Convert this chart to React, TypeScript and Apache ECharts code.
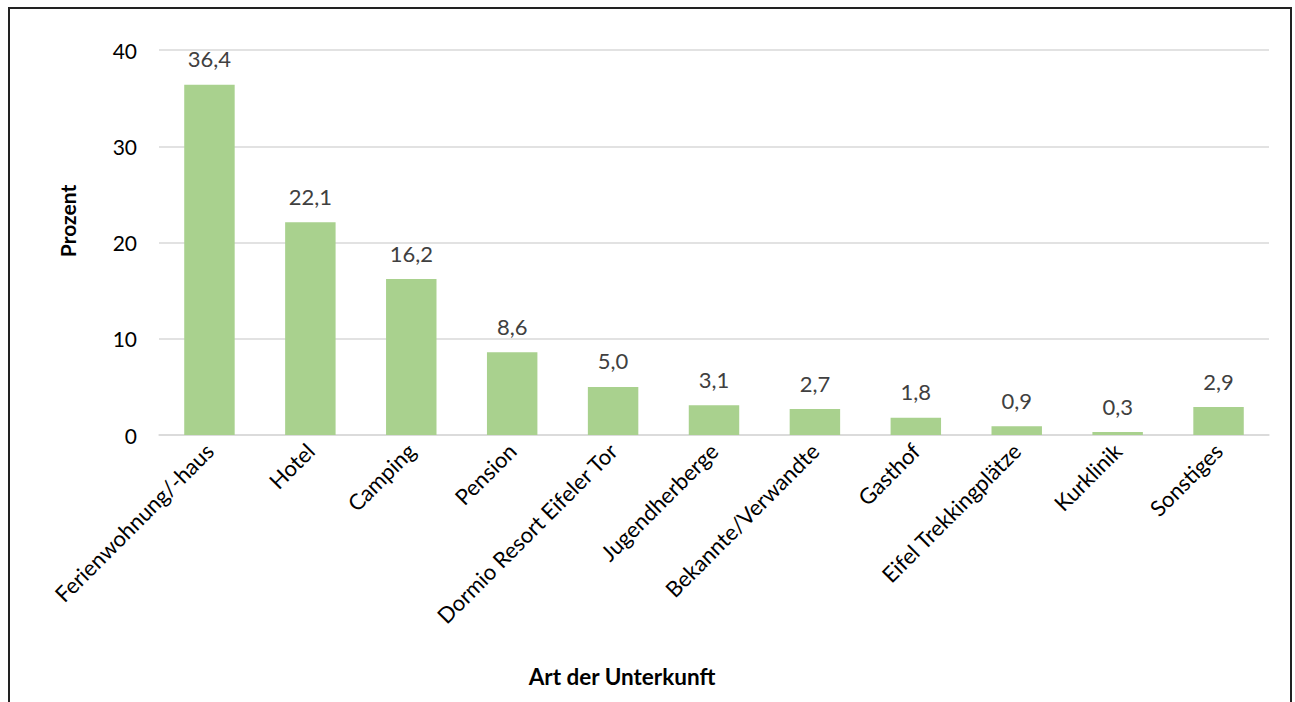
import React, { useEffect, useRef } from "react";
import * as echarts from "echarts";

const categories = [
  "Ferienwohnung/-haus",
  "Hotel",
  "Camping",
  "Pension",
  "Dormio Resort Eifeler Tor",
  "Jugendherberge",
  "Bekannte/Verwandte",
  "Gasthof",
  "Eifel Trekkingplätze",
  "Kurklinik",
  "Sonstiges",
];
const values = [36.4, 22.1, 16.2, 8.6, 5.0, 3.1, 2.7, 1.8, 0.9, 0.3, 2.9];
const yTicks = [0, 10, 20, 30, 40];
const xTitle = "Art der Unterkunft";
const yTitle = "Prozent";

const FONT = "Lato, 'Open Sans', sans-serif";
const FS = 22;

export default function App() {
  const ref = useRef<HTMLDivElement>(null);
  useEffect(() => {
    if (!ref.current) return;
    const chart = echarts.init(ref.current, undefined, { renderer: "svg" });
    chart.setOption({
      animation: false,
      backgroundColor: "#ffffff",
      textStyle: { fontFamily: FONT },
      grid: { left: 159, right: 26, top: 50, bottom: 267, containLabel: false },
      xAxis: {
        type: "category",
        data: categories,
        axisLine: { lineStyle: { color: "#D9D9D9", width: 1.5 } },
        axisTick: { show: false },
        axisLabel: {
          rotate: 45,
          interval: 0,
          fontSize: FS,
          color: "#000000",
          fontFamily: FONT,
          margin: 12,
        },
      },
      yAxis: {
        type: "value",
        min: yTicks[0],
        max: yTicks[yTicks.length - 1],
        interval: 10,
        axisLine: { show: false },
        axisTick: { show: false },
        splitLine: { lineStyle: { color: "#D9D9D9", width: 1.5 } },
        axisLabel: { fontSize: 21, color: "#000000", margin: 22, fontFamily: FONT },
      },
      series: [
        {
          type: "bar",
          data: values,
          barWidth: "50%",
          itemStyle: { color: "#A9D18E" },
          label: {
            show: true,
            position: "top",
            distance: 15,
            fontSize: FS,
            color: "#404040",
            fontFamily: FONT,
            formatter: (p: any) => Number(p.value).toFixed(1).replace(".", ","),
          },
        },
      ],
      graphic: [
        {
          type: "rect",
          shape: { x: 9, y: 8, width: 1282, height: 720 },
          style: { fill: "none", stroke: "#222222", lineWidth: 2 },
          silent: true,
        },
        {
          type: "text",
          x: 67,
          y: 221,
          rotation: Math.PI / 2,
          style: {
            text: yTitle,
            font: `bold 21px ${FONT}`,
            fill: "#000000",
            textAlign: "center",
            textVerticalAlign: "middle",
          },
        },
        {
          type: "text",
          x: 622,
          y: 676,
          style: {
            text: xTitle,
            font: `bold 22.5px ${FONT}`,
            fill: "#000000",
            textAlign: "center",
            textVerticalAlign: "middle",
          },
        },
      ],
    });
    return () => chart.dispose();
  }, []);
  return (
    <div
      ref={ref}
      style={{ position: "fixed", left: 0, top: 0, width: 1295, height: 702 }}
    />
  );
}
